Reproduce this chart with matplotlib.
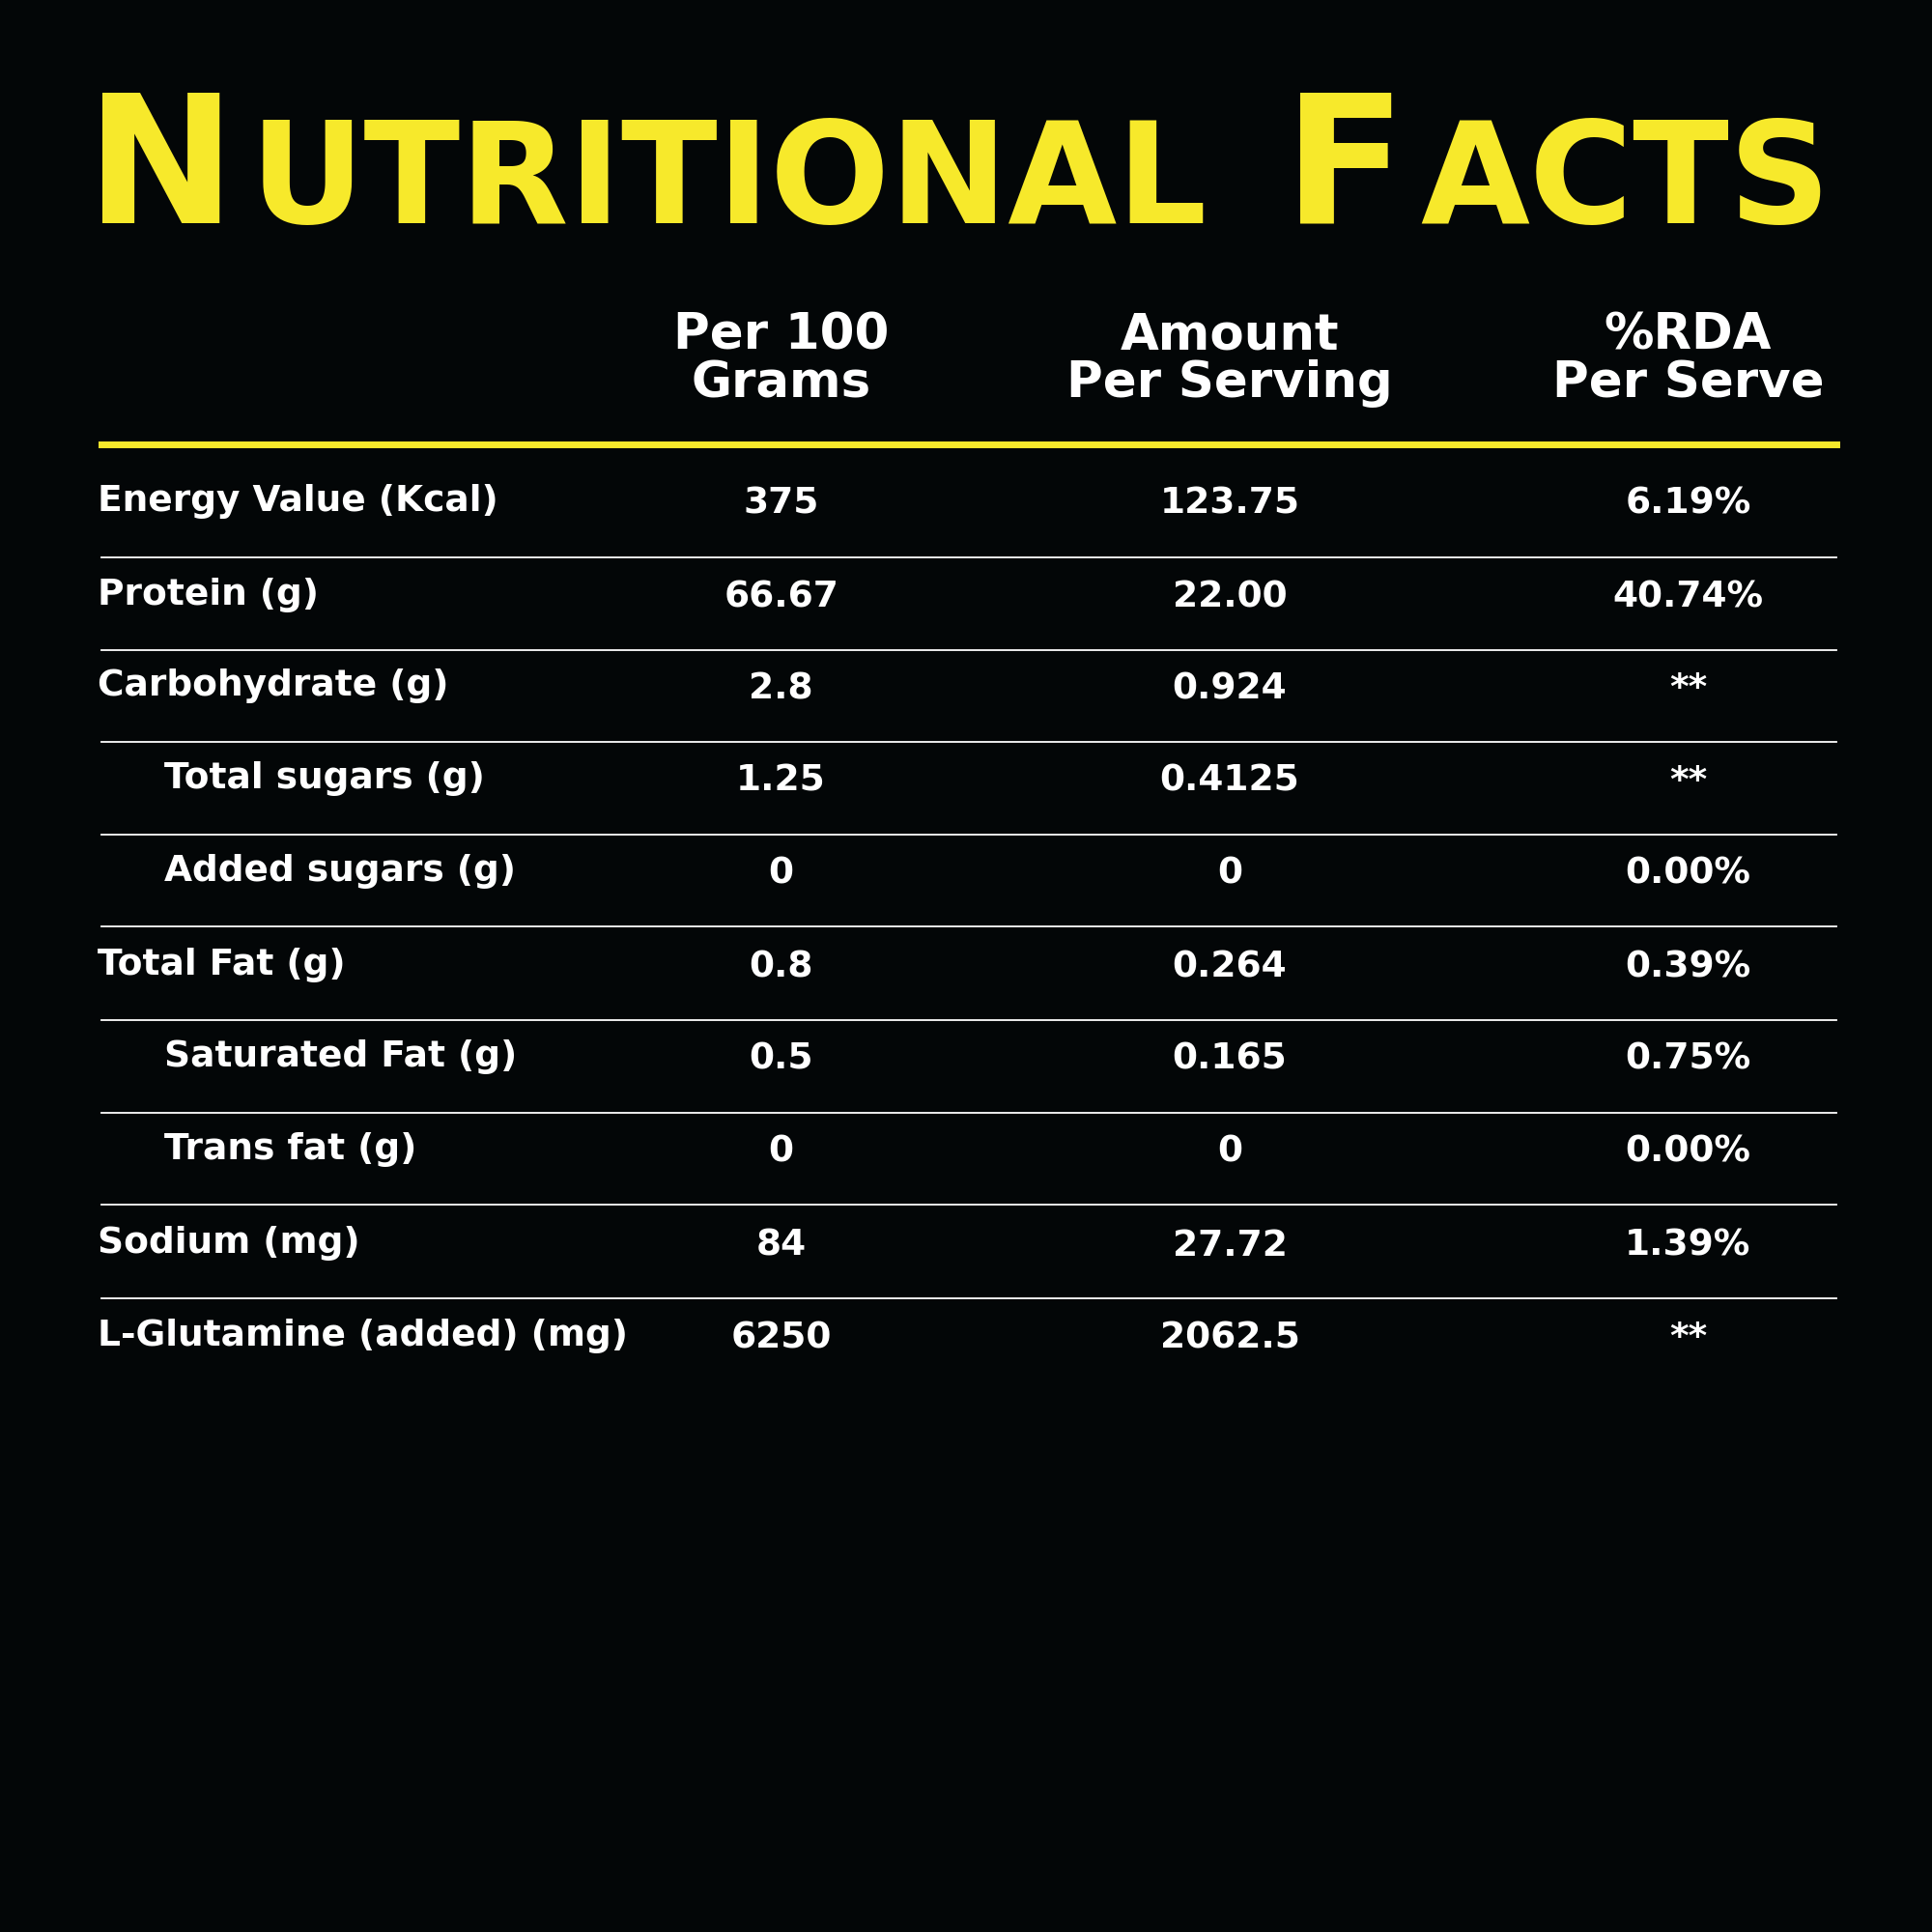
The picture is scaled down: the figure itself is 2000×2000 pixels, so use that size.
import matplotlib
matplotlib.use("Agg")
import matplotlib.pyplot as plt
from matplotlib.lines import Line2D

S = 1568.0  # reference layout units

col_headers = ["Per 100\nGrams", "Amount\nPer Serving", "%RDA\nPer Serve"]
labels = ["Energy Value (Kcal)", "Protein (g)", "Carbohydrate (g)", "Total sugars (g)",
          "Added sugars (g)", "Total Fat (g)", "Saturated Fat (g)", "Trans fat (g)",
          "Sodium (mg)", "L-Glutamine (added) (mg)"]
indented = [False, False, False, True, True, False, True, True, False, False]
per_100g = ["375", "66.67", "2.8", "1.25", "0", "0.8", "0.5", "0", "84", "6250"]
per_serving = ["123.75", "22.00", "0.924", "0.4125", "0", "0.264", "0.165", "0", "27.72", "2062.5"]
rda = ["6.19%", "40.74%", "**", "**", "0.00%", "0.39%", "0.75%", "0.00%", "1.39%", "**"]

BG = "#030607"
YELLOW = "#F7E92B"
FONT = "DejaVu Sans"

fig = plt.figure(figsize=(20, 20), dpi=100, facecolor=BG)


def fx(x):
    return x / S


def fy(y):
    return 1 - y / S


# title in small caps: measure once, then rescale to the target width
renderer = fig.canvas.get_renderer()
pieces = [("N", 150), ("UTRITIONAL", 118), (" ", 118), ("F", 150), ("ACTS", 118)]


def draw_title(scale):
    arts = []
    x = fx(70)
    for txt, size in pieces:
        t = fig.text(x, fy(181), txt, color=YELLOW, fontsize=size * scale,
                     fontweight="semibold", family=FONT, ha="left", va="baseline")
        bb = t.get_window_extent(renderer)
        x += bb.width / fig.bbox.width + 0.008 * scale
        arts.append(t)
    return arts, x - fx(70)


arts, width = draw_title(1.0)
for a in arts:
    a.remove()
draw_title((fx(1497) - fx(70)) / width)

col_x = [634, 998, 1370]
for cx, head in zip(col_x, col_headers):
    fig.text(fx(cx), fy(292), head, color="white", fontsize=37, fontweight="bold",
             family=FONT, ha="center", va="center", linespacing=1.0)

fig.add_artist(Line2D([fx(82), fx(1490)], [fy(361), fy(361)], color=YELLOW, lw=5))

row_y = [407, 483, 557, 632, 707, 783, 858, 933, 1009, 1084]
for i, y in enumerate(row_y):
    lx = 133 if indented[i] else 79
    fig.text(fx(lx), fy(y), labels[i], color="white", fontsize=27, fontweight="bold",
             family=FONT, ha="left", va="center")
    for cx, vals in zip(col_x, [per_100g, per_serving, rda]):
        fig.text(fx(cx), fy(y + 2), vals[i], color="white", fontsize=27,
                 fontweight="bold", family=FONT, ha="center", va="center")
    if i < len(row_y) - 1:
        sy = y + 45
        fig.add_artist(Line2D([fx(82), fx(1490)], [fy(sy), fy(sy)], color="white", lw=1.3))

fig.savefig("out.png", dpi=100, facecolor=BG)
